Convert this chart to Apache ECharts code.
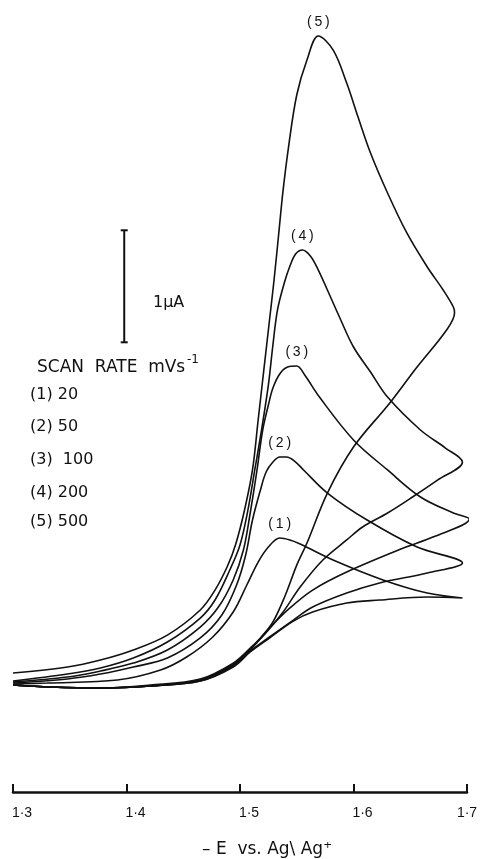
<!DOCTYPE html>
<html>
<head>
<meta charset="utf-8">
<script src="https://cdn.jsdelivr.net/npm/echarts@6/dist/echarts.min.js"></script>
<style>
html,body{margin:0;padding:0;background:#fff;}
#chart{width:483px;height:859px;}
</style>
</head>
<body>
<div id="chart"></div>
<script>
// Potential (-E / V vs Ag|Ag+) and current (µA, relative to baseline).
// Each curve: forward scan 1.3 -> 1.7 V, then reverse scan back to 1.3 V.
const fwd5 = [[1.300,0.107],[1.348,0.161],[1.377,0.223],[1.406,0.313],[1.436,0.446],[1.465,0.670],[1.478,0.848],[1.489,1.063],[1.496,1.250],[1.504,1.563],[1.511,1.920],[1.516,2.366],[1.521,2.813],[1.526,3.259],[1.530,3.616],[1.534,4.018],[1.538,4.420],[1.543,4.821],[1.550,5.268],[1.559,5.580],[1.569,5.795],[1.582,5.670],[1.594,5.375],[1.604,5.071],[1.615,4.750],[1.630,4.393],[1.647,4.036],[1.665,3.732],[1.679,3.527],[1.688,3.375]];
const rev5 = [[1.689,3.321],[1.682,3.170],[1.656,2.839],[1.632,2.518],[1.600,2.125],[1.577,1.714],[1.559,1.268],[1.550,1.071],[1.540,0.804],[1.529,0.563],[1.518,0.420],[1.509,0.330],[1.494,0.196],[1.465,0.054],[1.421,0.000],[1.377,-0.027],[1.333,-0.018],[1.300,0.000]];

const fwd4 = [[1.300,0.036],[1.348,0.098],[1.377,0.152],[1.406,0.241],[1.436,0.384],[1.465,0.598],[1.478,0.759],[1.491,1.027],[1.500,1.250],[1.507,1.563],[1.513,1.920],[1.519,2.277],[1.525,2.679],[1.529,3.036],[1.533,3.348],[1.539,3.589],[1.544,3.741],[1.549,3.848],[1.555,3.884],[1.562,3.830],[1.569,3.705],[1.577,3.527],[1.588,3.277],[1.600,3.018],[1.615,2.795],[1.630,2.571],[1.659,2.277],[1.681,2.116]];
const rev4 = [[1.696,1.991],[1.674,1.830],[1.652,1.679],[1.630,1.536],[1.608,1.411],[1.594,1.295],[1.573,1.116],[1.553,0.875],[1.538,0.652],[1.522,0.455],[1.509,0.321],[1.494,0.188],[1.465,0.045],[1.421,-0.009],[1.377,-0.027],[1.333,-0.018],[1.300,0.000]];

const fwd3 = [[1.300,0.027],[1.348,0.071],[1.377,0.125],[1.406,0.196],[1.436,0.313],[1.465,0.518],[1.481,0.696],[1.494,0.938],[1.503,1.205],[1.509,1.536],[1.515,1.920],[1.520,2.277],[1.525,2.500],[1.529,2.652],[1.535,2.777],[1.542,2.839],[1.550,2.848],[1.557,2.768],[1.570,2.571],[1.600,2.188],[1.630,1.920],[1.659,1.679],[1.688,1.536]];
const rev3 = [[1.702,1.482],[1.670,1.321],[1.644,1.223],[1.594,1.009],[1.564,0.848],[1.544,0.688],[1.526,0.509],[1.509,0.313],[1.494,0.179],[1.465,0.045],[1.421,-0.009],[1.377,-0.027],[1.333,-0.018],[1.300,0.000]];

const fwd2 = [[1.300,0.018],[1.348,0.054],[1.377,0.098],[1.406,0.161],[1.436,0.241],[1.465,0.420],[1.484,0.625],[1.497,0.893],[1.505,1.161],[1.511,1.473],[1.518,1.741],[1.523,1.902],[1.529,1.991],[1.535,2.036],[1.541,2.036],[1.548,2.000],[1.556,1.920],[1.577,1.714],[1.612,1.473],[1.656,1.232]];
const rev2 = [[1.696,1.089],[1.665,1.000],[1.623,0.911],[1.594,0.821],[1.564,0.696],[1.547,0.580],[1.526,0.429],[1.509,0.304],[1.494,0.170],[1.465,0.036],[1.421,-0.009],[1.377,-0.027],[1.333,-0.018],[1.300,0.000]];

const fwd1 = [[1.300,0.009],[1.330,0.018],[1.392,0.045],[1.430,0.134],[1.453,0.250],[1.476,0.429],[1.494,0.652],[1.506,0.893],[1.516,1.098],[1.525,1.232],[1.535,1.313],[1.544,1.295],[1.553,1.259],[1.582,1.116],[1.626,0.938],[1.665,0.821]];
const rev1 = [[1.696,0.777],[1.665,0.786],[1.623,0.759],[1.594,0.732],[1.564,0.652],[1.547,0.571],[1.526,0.420],[1.509,0.295],[1.494,0.161],[1.465,0.036],[1.421,-0.009],[1.377,-0.027],[1.333,-0.018],[1.300,0.000]];

const curveNames = ['(\u20091\u2009)','(\u20092\u2009)','(\u20093\u2009)','(\u20094\u2009)','(\u20095\u2009)'];
const scanRates = ['(1) 20','(2) 50','(3)  100','(4) 200','(5) 500'];
const tickLabels = ['1·3','1·4','1·5','1·6','1·7'];
// 1 µA scale bar
const scaleBar = [[1.398,3.06],[1.398,4.06]];

const FONT = "'Liberation Sans', 'DejaVu Sans', sans-serif";
const FONT2 = "'DejaVu Sans', 'Liberation Sans', sans-serif";
const INK = '#111';

const loops = [fwd1.concat(rev1), fwd2.concat(rev2), fwd3.concat(rev3), fwd4.concat(rev4), fwd5.concat(rev5)];

const series = loops.map((d, k) => ({
  type: 'line',
  data: d,
  smooth: 0.35,
  symbol: 'none',
  clip: false,
  lineStyle: {color: INK, width: 1.6},
  markPoint: {
    symbol: 'circle', symbolSize: 1,
    itemStyle: {color: 'rgba(0,0,0,0)'},
    label: {show: true, position: 'top', distance: 6, formatter: curveNames[k],
            color: INK, fontSize: 14, fontFamily: FONT},
    data: [{type: 'max'}]
  }
}));

series.push({
  type: 'line',
  data: scaleBar,
  symbol: 'rect',
  symbolSize: [7, 2],
  showSymbol: true,
  itemStyle: {color: INK},
  lineStyle: {color: INK, width: 2},
  clip: false
});

const graphics = [];
graphics.push({type:'text', x:153, y:303, style:{text:'1μA', fill:INK, font:'16px ' + FONT2, verticalAlign:'middle'}});
graphics.push({type:'text', x:37, y:368, style:{text:'SCAN  RATE  mVs', fill:INK, font:'17px ' + FONT2, verticalAlign:'middle'}});
graphics.push({type:'text', x:187, y:360, style:{text:'-1', fill:INK, font:'12px ' + FONT2, verticalAlign:'middle'}});
const rateY = [395, 427, 460, 493, 522];
scanRates.forEach((t, k) => {
  graphics.push({type:'text', x:30, y:rateY[k], style:{text:t, fill:INK, font:'16px ' + FONT2, verticalAlign:'middle'}});
});
graphics.push({type:'text', x:202, y:850, style:{text:'– E  vs. Ag\\ Ag⁺', fill:INK, font:'17px ' + FONT2, verticalAlign:'middle'}});

const chart = echarts.init(document.getElementById('chart'), null, {renderer: 'canvas'});
chart.setOption({
  animation: false,
  backgroundColor: '#fff',
  grid: {left: 13, right: 16, top: 0, bottom: 67, containLabel: false},
  xAxis: {
    type: 'value', min: 1.3, max: 1.7, interval: 0.1,
    axisLine: {show: true, onZero: false, lineStyle: {color: INK, width: 2.5}},
    axisTick: {show: true, inside: true, length: 8, lineStyle: {color: INK, width: 2}},
    splitLine: {show: false},
    axisLabel: {
      margin: 14, color: INK, fontSize: 14, fontFamily: FONT,
      formatter: function (v) {
        const idx = Math.round((v - 1.3) * 10);
        const s = tickLabels[idx] || '';
        return idx === 4 ? '{e|' + s + '}' : '{n|' + s + '}';
      },
      rich: {
        n: {padding: [0, 0, 0, 18], fontSize: 14, fontFamily: FONT, color: INK},
        e: {padding: [0, 0, 0, 0], fontSize: 14, fontFamily: FONT, color: INK}
      }
    }
  },
  yAxis: {type: 'value', min: -0.955, max: 6.116, show: false},
  series: series,
  graphic: graphics
});
</script>
</body>
</html>
